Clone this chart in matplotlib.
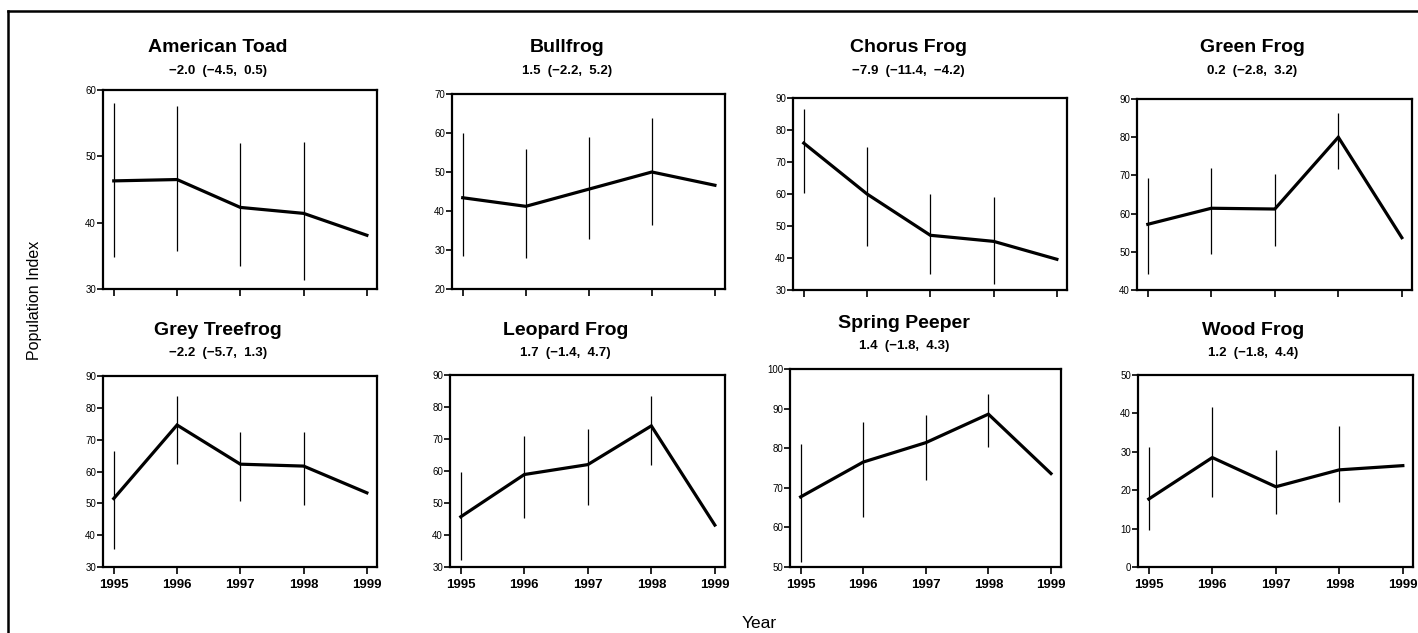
import numpy as np
import matplotlib
matplotlib.use("Agg")
import matplotlib.pyplot as plt
from matplotlib.lines import Line2D

plt.rcParams['font.family'] = ['Liberation Sans Narrow', 'Liberation Sans', 'DejaVu Sans']

W_PX, H_PX = 1418, 633

years = [1995, 1996, 1997, 1998, 1999]

species = ["American Toad", "Bullfrog", "Chorus Frog", "Green Frog",
           "Grey Treefrog", "Leopard Frog", "Spring Peeper", "Wood Frog"]
trends = ["\u22122.0  (\u22124.5,  0.5)", "1.5  (\u22122.2,  5.2)", "\u22127.9  (\u221211.4,  \u22124.2)",
          "0.2  (\u22122.8,  3.2)", "\u22122.2  (\u22125.7,  1.3)", "1.7  (\u22121.4,  4.7)",
          "1.4  (\u22121.8,  4.3)", "1.2  (\u22121.8,  4.4)"]

# population index per year
toad = [46.3, 46.5, 42.3, 41.4, 38.1]
bullfrog = [43.4, 41.2, 45.6, 50.0, 46.6]
chorus = [75.9, 60.0, 47.1, 45.2, 39.6]
green = [57.2, 61.4, 61.2, 80.0, 53.7]
treefrog = [51.5, 74.6, 62.3, 61.7, 53.3]
leopard = [45.7, 58.9, 62.0, 74.1, 43.1]
peeper = [67.7, 76.5, 81.4, 88.6, 73.6]
wood = [17.7, 28.5, 20.9, 25.3, 26.4]

# error bar ends (1995-1998, none drawn for 1999)
toad_lo = [34.8, 35.8, 33.5, 31.4]
toad_hi = [58.1, 57.6, 52.0, 52.2]
bullfrog_lo = [28.4, 28.0, 32.9, 36.3]
bullfrog_hi = [60.0, 55.8, 59.1, 63.8]
chorus_lo = [60.2, 43.8, 34.9, 31.8]
chorus_hi = [86.6, 74.6, 60.0, 59.0]
green_lo = [44.1, 49.5, 51.5, 71.7]
green_hi = [69.4, 72.0, 70.3, 86.3]
treefrog_lo = [35.6, 62.3, 50.8, 49.4]
treefrog_hi = [66.5, 83.7, 72.3, 72.5]
leopard_lo = [32.1, 45.2, 49.4, 62.0]
leopard_hi = [59.7, 71.0, 73.2, 83.3]
peeper_lo = [51.3, 62.6, 72.0, 80.4]
peeper_hi = [81.0, 86.5, 88.3, 93.7]
wood_lo = [9.6, 18.1, 13.7, 16.8]
wood_hi = [31.2, 41.7, 30.5, 36.8]

values = [toad, bullfrog, chorus, green, treefrog, leopard, peeper, wood]
lows = [toad_lo, bullfrog_lo, chorus_lo, green_lo, treefrog_lo, leopard_lo, peeper_lo, wood_lo]
highs = [toad_hi, bullfrog_hi, chorus_hi, green_hi, treefrog_hi, leopard_hi, peeper_hi, wood_hi]
ylims = [(30, 60), (20, 70), (30, 90), (40, 90), (30, 90), (30, 90), (50, 100), (0, 50)]

# axes boxes in pixels: left, right, top, bottom
boxes = [(103, 377, 90, 289), (452, 725, 94, 289), (793, 1067, 98, 290), (1137, 1412, 99, 290),
         (103, 377, 376, 567), (450, 725, 375, 567), (790, 1061, 369, 567), (1138, 1413, 375, 567)]
title_y = [48, 48, 48, 48, 330, 330, 323, 330]

fig = plt.figure(figsize=(W_PX / 100, H_PX / 100), dpi=100)

for i in range(8):
    l, r, t, b = boxes[i]
    ax = fig.add_axes([l / W_PX, 1 - b / H_PX, (r - l) / W_PX, (b - t) / H_PX])
    ax.plot(years, values[i], color='black', lw=2.3, solid_joinstyle='miter')
    ax.vlines(years[:4], lows[i], highs[i], color='black', lw=0.9)
    ax.set_xlim(1994.83, 1999.16)
    ax.set_ylim(*ylims[i])
    ax.set_yticks(np.arange(ylims[i][0], ylims[i][1] + 1, 10))
    ax.set_xticks(years)
    for sp in ax.spines.values():
        sp.set_linewidth(1.6)
    ax.tick_params(direction='out', length=5, width=1.2, labelsize=7, pad=1)
    ax.tick_params(axis='y', length=4)
    if i < 4:
        ax.set_xticklabels([])
    else:
        ax.set_xticklabels([str(y) for y in years], fontsize=9.5, fontweight='bold')
        ax.tick_params(axis='x', pad=4)
    cx = (l + (r - l) * 0.42) / W_PX
    fig.text(cx, 1 - title_y[i] / H_PX, species[i], ha='center', va='center',
             fontsize=14, fontweight='bold')
    fig.text(cx, 1 - (title_y[i] + 23) / H_PX, trends[i], ha='center', va='center',
             fontsize=9.5, fontweight='bold')

fig.text(35 / W_PX, 1 - 300 / H_PX, "Population Index", rotation=90, ha='center', va='center',
         fontsize=11.5, family=['Liberation Sans', 'DejaVu Sans'])
fig.text(759 / W_PX, 1 - 623 / H_PX, "Year", ha='center', va='center',
         fontsize=12.5, family=['Liberation Sans', 'DejaVu Sans'])

# outer frame (top and left edges)
fig.add_artist(Line2D([8 / W_PX, 1], [1 - 11 / H_PX, 1 - 11 / H_PX], color='black', lw=1.8))
fig.add_artist(Line2D([8 / W_PX, 8 / W_PX], [0, 1 - 11 / H_PX], color='black', lw=1.8))

fig.savefig("out.png", dpi=100)
